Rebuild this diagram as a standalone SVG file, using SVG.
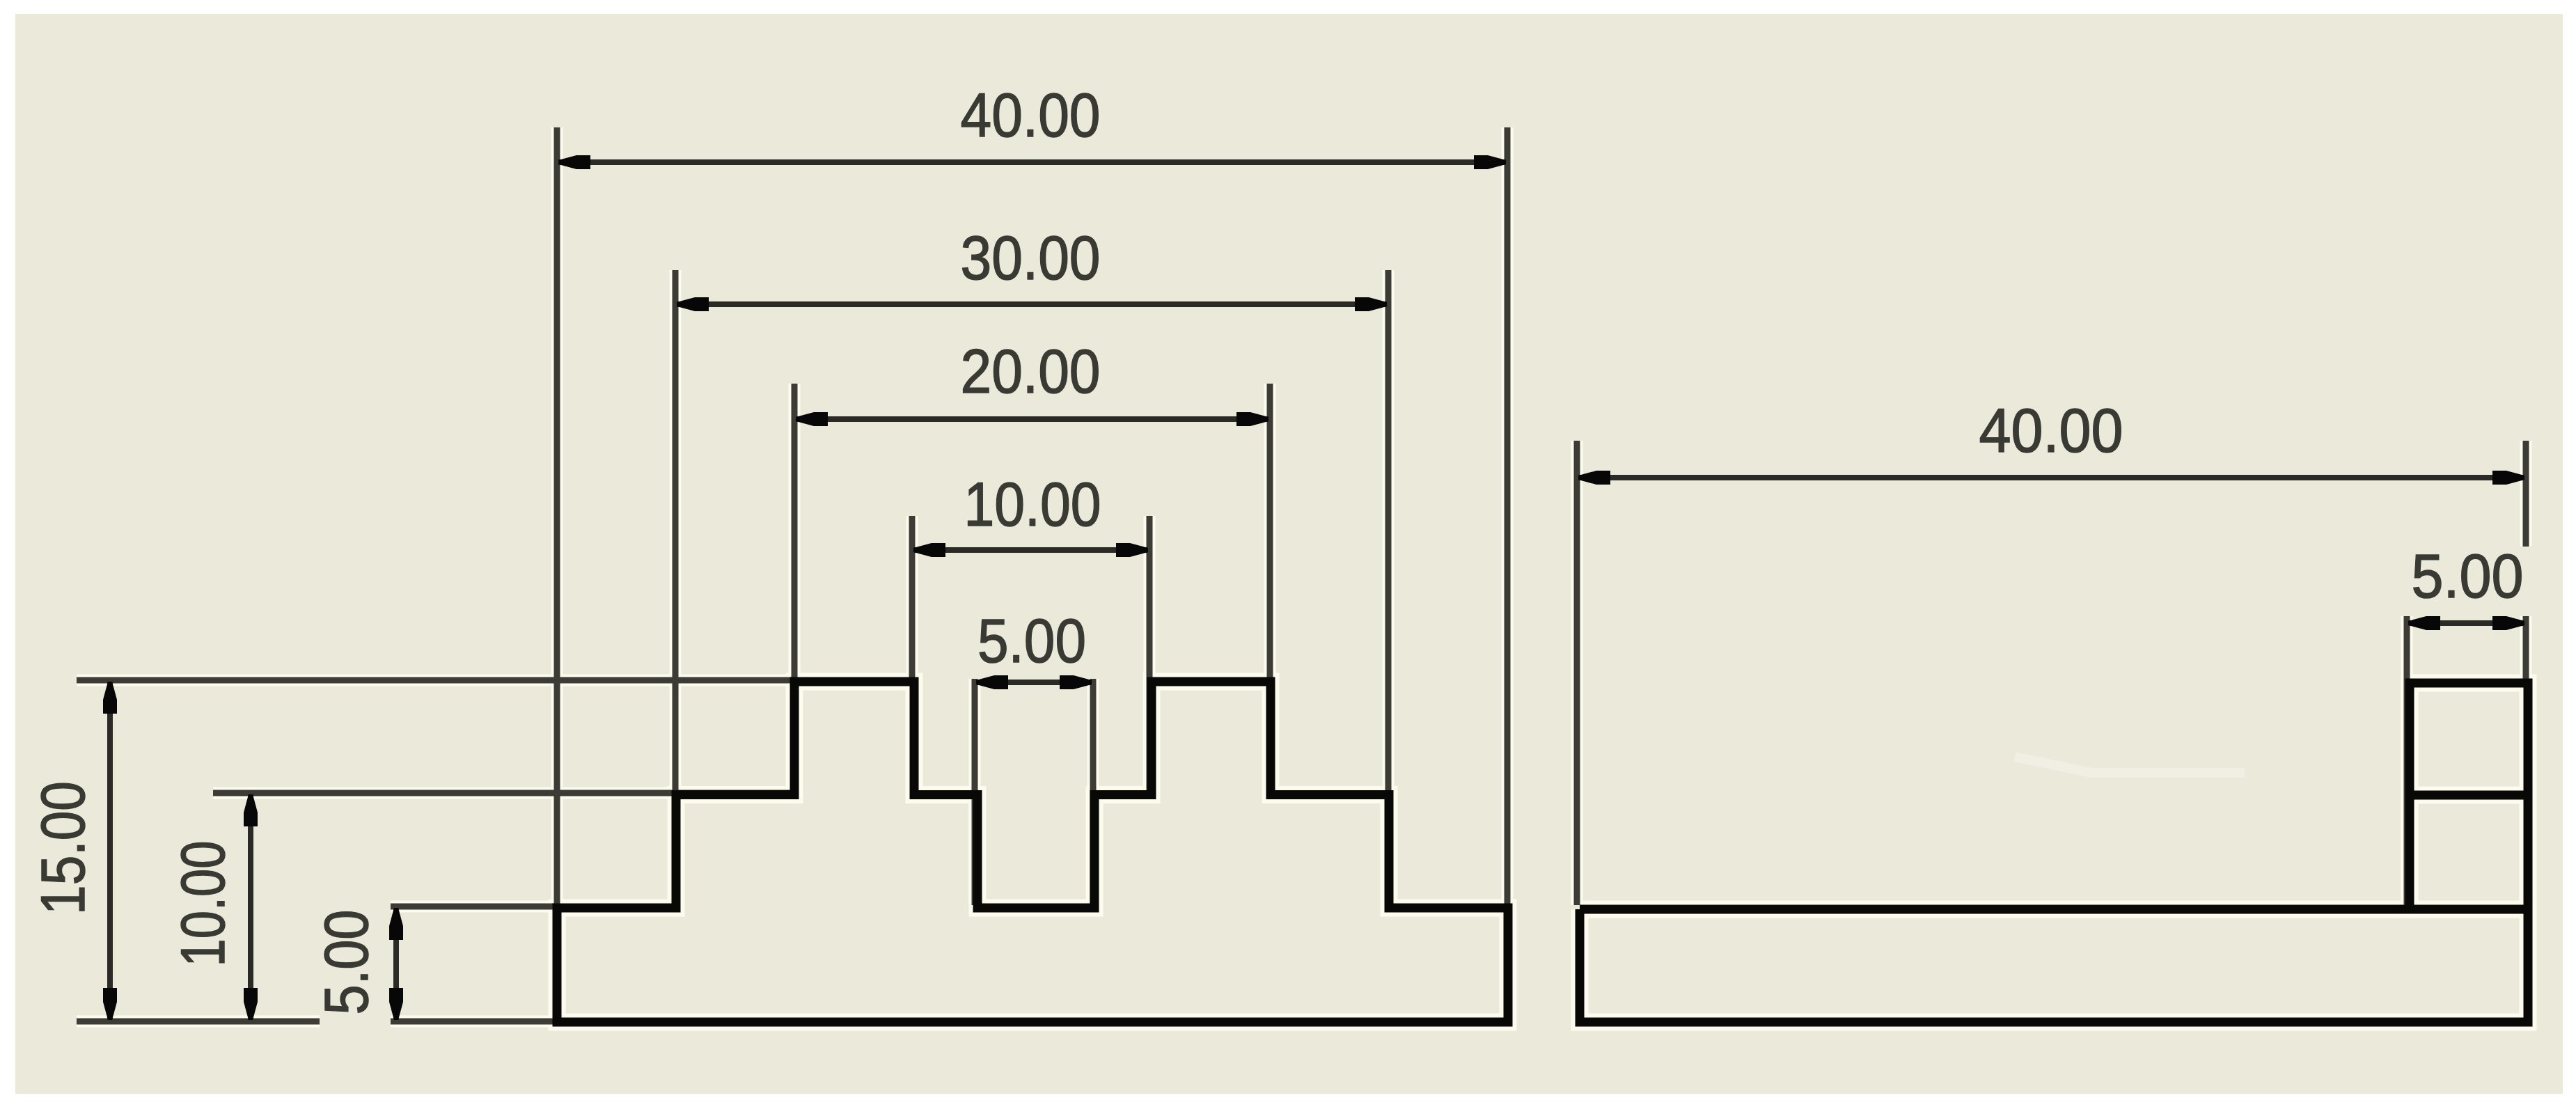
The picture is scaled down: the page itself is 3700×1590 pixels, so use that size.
<svg xmlns="http://www.w3.org/2000/svg" width="3700" height="1590" viewBox="0 0 3700 1590">
<style>
text{font-family:"Liberation Sans",Arial,sans-serif;font-size:89px;fill:#3a3a34;stroke:#3a3a34;stroke-width:1.5;text-anchor:middle}
.ext,.dim,.obj{fill:none;stroke-linecap:butt;stroke-linejoin:miter}
.ext{stroke:#3c3b35;stroke-width:9}
.dim{stroke:#2b2a26;stroke-width:8}
.obj{stroke:#080807;stroke-width:13}
.halo{fill:none;stroke:#fdfbee;stroke-width:17}
</style>
<defs>
<marker id="ah" markerUnits="userSpaceOnUse" markerWidth="60" markerHeight="36" refX="46" refY="18" orient="auto-start-reverse"><path d="M46,15 L20,8 L0,8 L0,28 L20,28 L46,21Z" fill="#070707"/></marker>
<path id="p-ext" d="M800,183V1467M2165,183V1300M970,388V1300M1994,388V1140M1141,551V975M1824,551V1140M1310,741V975M1651,741V1140M1400,975V1300M1570,975V1300M110,977H1141M306,1139H1141M561,1302H800M110,1467H459M561,1467H800M2265,633V1300M3628,633V785M3457,885V1306M3628,885V981"/>
<path id="p-obj" d="M800,1468V1304H971V1141.500H1141V979H1313V1141.500H1404V1304H1572V1141.500H1654V979H1825V1141.500H1995V1304H2166V1468ZM2269,1306H3631M2269,1306V1468H3631V981H3461V1306M3461,1142H3631"/>
</defs>
<rect width="3700" height="1590" fill="#ffffff"/>
<rect x="22" y="20" width="3659" height="1551" fill="#ebe9da"/>
<path d="M2894,1087L3004,1110H3224" fill="none" stroke="#f1efe3" stroke-width="14"/>
<g id="halo">
<use href="#p-ext" class="halo"/>
<use href="#p-obj" class="halo" style="stroke-width:25"/>
</g>
<g id="connectors">
<use href="#p-ext" class="ext"/>
<path class="dim" marker-start="url(#ah)" marker-end="url(#ah)" d="M802,233H2163"/>
<path class="dim" marker-start="url(#ah)" marker-end="url(#ah)" d="M972,437H1992"/>
<path class="dim" marker-start="url(#ah)" marker-end="url(#ah)" d="M1143,602H1822"/>
<path class="dim" marker-start="url(#ah)" marker-end="url(#ah)" d="M1312,790H1649"/>
<path class="dim" marker-start="url(#ah)" marker-end="url(#ah)" d="M1402,980H1568"/>
<path class="dim" marker-start="url(#ah)" marker-end="url(#ah)" d="M2267,686H3626"/>
<path class="dim" marker-start="url(#ah)" marker-end="url(#ah)" d="M3459,895H3626"/>
<path class="dim" marker-start="url(#ah)" marker-end="url(#ah)" d="M158,979V1465"/>
<path class="dim" marker-start="url(#ah)" marker-end="url(#ah)" d="M360,1141V1465"/>
<path class="dim" marker-start="url(#ah)" marker-end="url(#ah)" d="M569,1304V1465"/>
</g>
<g id="front-view"><use href="#p-obj" class="obj"/></g>
<g id="labels">
<text x="1480" y="196" textLength="201" lengthAdjust="spacingAndGlyphs">40.00</text>
<text x="1480" y="401" textLength="201" lengthAdjust="spacingAndGlyphs">30.00</text>
<text x="1480" y="564" textLength="201" lengthAdjust="spacingAndGlyphs">20.00</text>
<text x="1483" y="755" textLength="197" lengthAdjust="spacingAndGlyphs">10.00</text>
<text x="1482" y="951" textLength="156" lengthAdjust="spacingAndGlyphs">5.00</text>
<text x="2946" y="649" textLength="207" lengthAdjust="spacingAndGlyphs">40.00</text>
<text x="3544" y="858" textLength="161" lengthAdjust="spacingAndGlyphs">5.00</text>
<text transform="translate(121,1218) rotate(-90)" textLength="192" lengthAdjust="spacingAndGlyphs">15.00</text>
<text transform="translate(322,1298) rotate(-90)" textLength="181" lengthAdjust="spacingAndGlyphs">10.00</text>
<text transform="translate(528,1382) rotate(-90)" textLength="151" lengthAdjust="spacingAndGlyphs">5.00</text>
</g>
</svg>
